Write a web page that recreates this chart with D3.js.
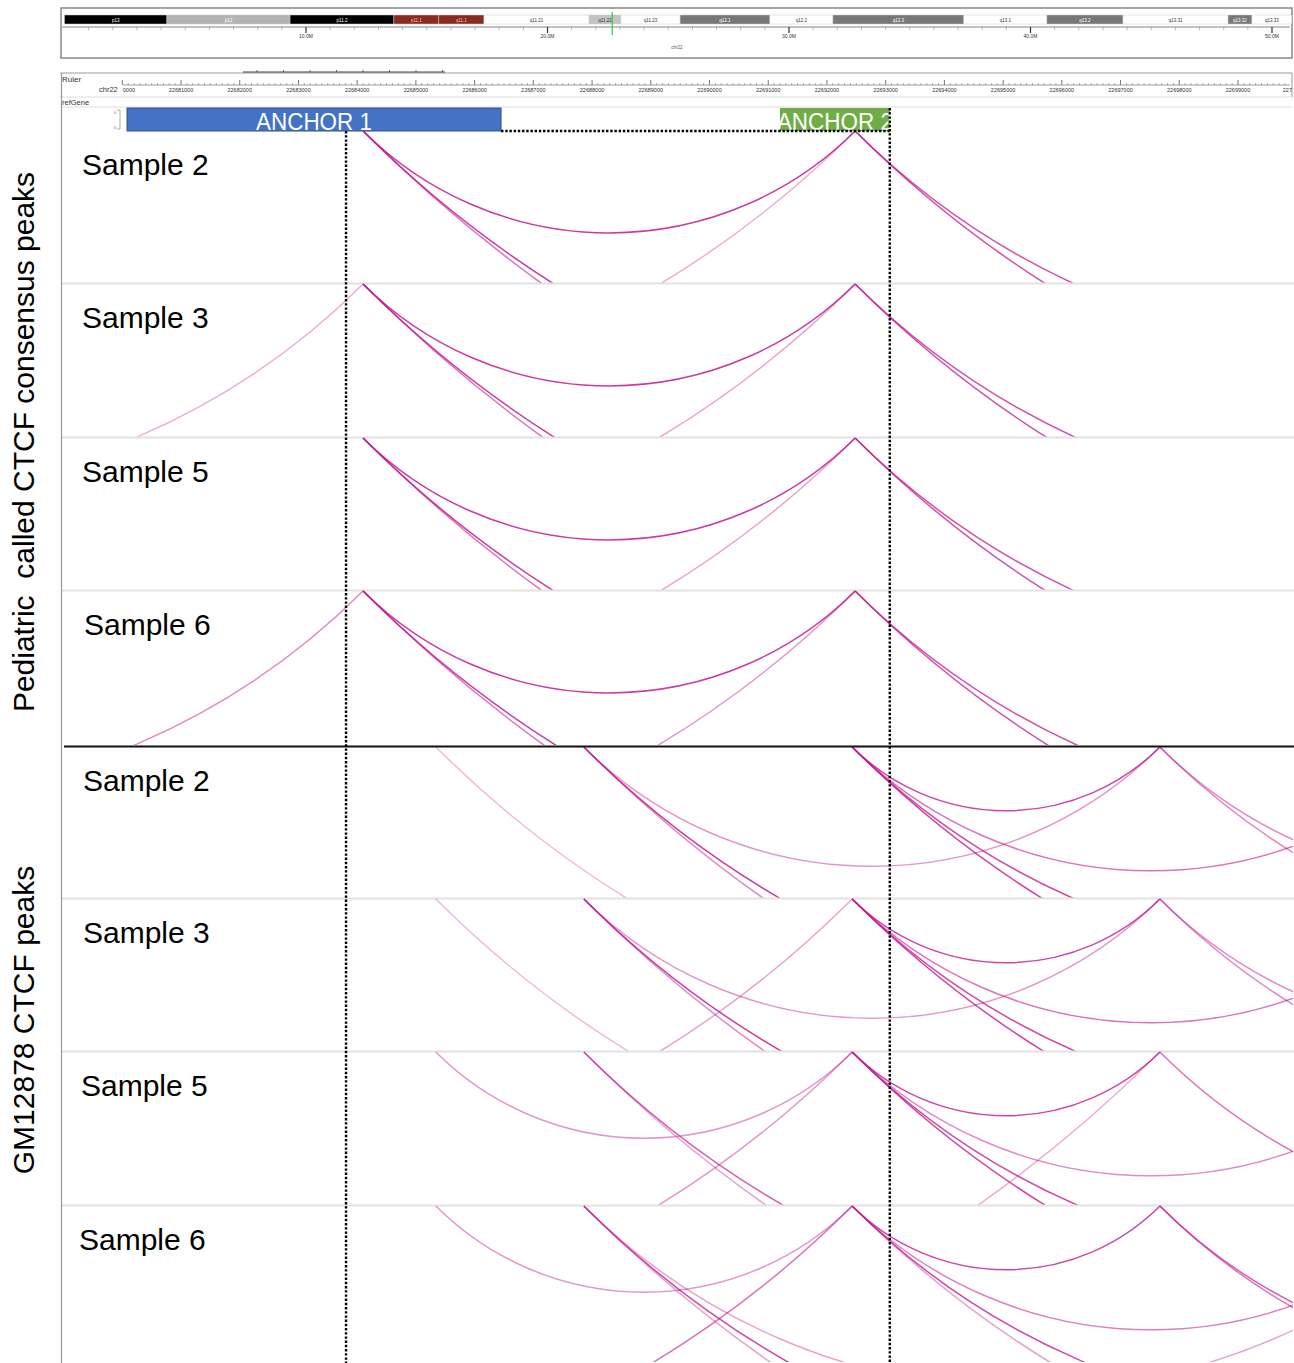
<!DOCTYPE html>
<html>
<head>
<meta charset="utf-8">
<script src="https://cdn.jsdelivr.net/npm/d3@7"></script>
<style>
body { margin: 0; background: #fff; }
text { font-family: "Liberation Sans", Arial, Helvetica, sans-serif; }
</style>
</head>
<body>
<svg id="chart" width="1294" height="1363"></svg>
<script>
// ---- data ----
// chr22 cytobands (Mb)
var bandNames  = ["p13","p12","p11.2","p11.1","q11.1","q11.21","q11.22","q11.23","q12.1","q12.2","q12.3","q13.1","q13.2","q13.31","q13.32","q13.33"];
var bandStarts = [0, 4.24, 9.34, 13.64, 15.5, 17.37, 21.72, 23.04, 25.49, 29.21, 31.82, 37.24, 40.68, 43.83, 48.18, 49.17];
var bandEnds   = [4.24, 9.34, 13.64, 15.5, 17.37, 21.72, 23.04, 25.49, 29.21, 31.82, 37.24, 40.68, 43.83, 48.18, 49.17, 50.82];
var bandStains = ["gpos100","gpos50","gpos100","acen","acen","gneg","gpos25","gneg","gpos75","gneg","gpos75","gneg","gpos75","gneg","gpos75","gneg"];
var ideoTicks = [10, 20, 30, 40, 50];
var viewPosMb = 22.68;

// ruler (bp)
var rulerTicks = d3.range(22680000, 22701000, 1000);

// anchors (bp)
var anchorNames  = ["ANCHOR 1", "ANCHOR 2"];
var anchorStarts = [22680080, 22691200];
var anchorEnds   = [22686450, 22693070];
var guideLines   = [22683810, 22693070];

// loops: [start, end, score]
var pedSample2 = [[22684100,22692480,0.85],[22684100,22719560,0.6],[22684100,22710850,0.85],[22667700,22692480,0.35],[22692480,22719230,0.75],[22692480,22710830,0.75]];
var pedSample3 = [[22684100,22692480,0.85],[22684100,22719560,0.6],[22684100,22710850,0.85],[22667700,22692480,0.4],[22692480,22719230,0.75],[22692480,22710830,0.75],[22666730,22684100,0.35]];
var pedSample5 = [[22684100,22692480,0.85],[22684100,22719560,0.6],[22684100,22710850,0.85],[22667700,22692480,0.4],[22692480,22719230,0.75],[22692480,22710830,0.75]];
var pedSample6 = [[22684100,22692480,0.85],[22684100,22719560,0.6],[22684100,22710850,0.85],[22667700,22692480,0.45],[22692480,22719230,0.75],[22692480,22710830,0.75],[22666730,22684100,0.5]];

var gmSample2 = [[22685340,22710770,0.3],[22687860,22711160,0.85],[22687860,22720830,0.5],[22687860,22697670,0.45],[22692430,22697670,0.8],[22692430,22702610,0.6],[22692430,22718350,0.8],[22692430,22709970,0.8],[22697670,22708720,0.5],[22697670,22715430,0.5]];
var gmSample3 = [[22685340,22710770,0.3],[22687860,22711160,0.85],[22687860,22720830,0.5],[22687860,22697670,0.45],[22666900,22692430,0.4],[22692430,22697670,0.8],[22692430,22702610,0.6],[22692430,22718350,0.8],[22692430,22709970,0.8],[22697670,22708720,0.5],[22697670,22715430,0.5]];
var gmSample5 = [[22685340,22692430,0.45],[22687860,22711160,0.7],[22687860,22720830,0.4],[22666900,22692430,0.45],[22692430,22697670,0.8],[22692430,22702610,0.5],[22692430,22718350,0.8],[22692430,22709970,0.8],[22664480,22697670,0.35],[22697670,22711670,0.6]];
var gmSample6 = [[22685340,22692430,0.45],[22687860,22711160,0.8],[22687860,22720830,0.4],[22687860,22702950,0.4],[22666900,22692430,0.6],[22692430,22697670,0.8],[22692430,22702610,0.55],[22692430,22718350,0.4],[22692430,22709970,0.8],[22697670,22710270,0.7],[22697670,22712760,0.6]];

var sampleNames = ["Sample 2", "Sample 3", "Sample 5", "Sample 6", "Sample 2", "Sample 3", "Sample 5", "Sample 6"];
var panelLoops  = [pedSample2, pedSample3, pedSample5, pedSample6, gmSample2, gmSample3, gmSample5, gmSample6];
var groupNames  = ["Pediatric  called CTCF consensus peaks", "GM12878 CTCF peaks"];

// ---- layout ----
var svg = d3.select("#chart");
var panelTops    = [131, 284, 438, 591, 747, 899, 1052, 1206];
var panelBottoms = [283, 437, 590, 745, 898, 1051, 1205, 1362];
var labelX = [82, 82, 82, 84, 83, 83, 81, 79];
var left = 62, right = 1293;

var x = d3.scaleLinear().domain([22680000, 22699000]).range([122.3, 1238]);
var xMb = d3.scaleLinear().domain([0, 50]).range([64.5, 1272]);

var stainColor = {gpos100: "#000", gpos75: "#777", gpos50: "#b3b3b3", gpos25: "#c4c4c4", gneg: "#fff", acen: "#8b2a1e"};
var stainText = {gpos100: "#fff", gpos75: "#fff", gpos50: "#fff", gpos25: "#333", gneg: "#333", acen: "#f0c0b8"};

// ideogram box
svg.append("rect").attr("x", 61).attr("y", 8).attr("width", 1231).attr("height", 50)
  .attr("fill", "#fff").attr("stroke", "#888").attr("stroke-width", 1.5);

var ideo = svg.append("g");
ideo.selectAll(".band").data(bandNames).enter().append("rect")
  .attr("x", function(d, i) { return xMb(bandStarts[i]); })
  .attr("y", 15)
  .attr("width", function(d, i) { return xMb(bandEnds[i]) - xMb(bandStarts[i]); })
  .attr("height", 9)
  .attr("fill", function(d, i) { return stainColor[bandStains[i]]; })
  .attr("stroke", "#ccc").attr("stroke-width", 0.5);
ideo.selectAll(".blab").data(bandNames).enter().append("text")
  .attr("x", function(d, i) { return (xMb(bandStarts[i]) + xMb(bandEnds[i])) / 2; })
  .attr("y", 21.5).attr("text-anchor", "middle").attr("font-size", 4.5)
  .attr("fill", function(d, i) { return stainText[bandStains[i]]; })
  .text(function(d) { return d; });

// ideogram axis
ideo.append("line").attr("x1", 62).attr("x2", 1290).attr("y1", 27).attr("y2", 27)
  .attr("stroke", "#666").attr("stroke-width", 0.8);
ideo.selectAll(".mt").data(d3.range(1, 51)).enter().append("line")
  .attr("x1", function(d) { return xMb(d); }).attr("x2", function(d) { return xMb(d); })
  .attr("y1", 27).attr("y2", function(d) { return d % 10 == 0 ? 33 : 30; })
  .attr("stroke", function(d) { return d % 10 == 0 ? "#333" : "#888"; })
  .attr("stroke-width", function(d) { return d % 10 == 0 ? 1.2 : 0.6; });
ideo.selectAll(".il").data(ideoTicks).enter().append("text")
  .attr("x", function(d) { return xMb(d); }).attr("y", 38)
  .attr("text-anchor", "middle").attr("font-size", 5).attr("fill", "#333")
  .text(function(d) { return d.toFixed(1) + "M"; });
ideo.append("line").attr("x1", xMb(viewPosMb)).attr("x2", xMb(viewPosMb))
  .attr("y1", 12).attr("y2", 35).attr("stroke", "#2ecc40").attr("stroke-width", 1.2);
ideo.append("text").attr("x", 677).attr("y", 49).attr("text-anchor", "middle")
  .attr("font-size", 4.5).attr("fill", "#555").text("chr22");

// ruler track
var ruler = svg.append("g");
ruler.append("line").attr("x1", 60).attr("x2", 1292).attr("y1", 73).attr("y2", 73).attr("stroke", "#999");
ruler.append("line").attr("x1", 1292).attr("x2", 1292).attr("y1", 73).attr("y2", 97).attr("stroke", "#999");
// selection bracket
ruler.append("line").attr("x1", 243).attr("x2", 445).attr("y1", 72).attr("y2", 72).attr("stroke", "#444").attr("stroke-width", 1.2);
ruler.selectAll(".bt").data(d3.range(0, 8)).enter().append("line")
  .attr("x1", function(d) { return 257 + d * 26.5; }).attr("x2", function(d) { return 257 + d * 26.5; })
  .attr("y1", 70).attr("y2", 72).attr("stroke", "#444").attr("stroke-width", 0.8);
ruler.append("text").attr("x", 62).attr("y", 82).attr("font-size", 8).attr("fill", "#333").text("Ruler");
ruler.append("line").attr("x1", 123).attr("x2", 1290).attr("y1", 85).attr("y2", 85).attr("stroke", "#888").attr("stroke-width", 0.8);
var minorTicks = d3.range(22680000, 22699900, 100);
ruler.selectAll(".rt").data(minorTicks).enter().append("line")
  .attr("x1", function(d) { return x(d); }).attr("x2", function(d) { return x(d); })
  .attr("y1", function(d) { return d % 1000 == 0 ? 80 : 83; }).attr("y2", 85)
  .attr("stroke", "#777").attr("stroke-width", function(d) { return d % 1000 == 0 ? 1 : 0.6; });
// first label is hidden under the chromosome name, last one runs off the edge
var lastTick = rulerTicks.length - 1;
ruler.selectAll(".rl").data(rulerTicks).enter().append("text")
  .attr("x", function(d, i) { return i == 0 ? x(d) + 0.5 : (i == lastTick ? 1292 : x(d)); }).attr("y", 92)
  .attr("text-anchor", function(d, i) { return i == 0 ? "start" : (i == lastTick ? "end" : "middle"); })
  .attr("font-size", 5.5).attr("fill", "#333")
  .text(function(d, i) {
    if (i == 0) return String(d).slice(4);
    if (i == lastTick) return String(d).slice(0, 3);
    return d;
  });
ruler.append("text").attr("x", 99).attr("y", 92).attr("font-size", 7.5).attr("fill", "#333").text("chr22");
ruler.append("line").attr("x1", 60).attr("x2", 1292).attr("y1", 97).attr("y2", 97).attr("stroke", "#ddd");
ruler.append("text").attr("x", 62).attr("y", 105).attr("font-size", 7.5).attr("fill", "#333").text("refGene");
ruler.append("line").attr("x1", 60).attr("x2", 1292).attr("y1", 107).attr("y2", 107).attr("stroke", "#ddd");
// small scale box
ruler.append("path").attr("d", "M117,110 h3 v19 h-3").attr("fill", "none").attr("stroke", "#999").attr("stroke-width", 0.8);
ruler.append("text").attr("x", 114).attr("y", 114).attr("font-size", 4).attr("fill", "#666").text("0");
ruler.append("text").attr("x", 114).attr("y", 129).attr("font-size", 4).attr("fill", "#666").text("0");

// anchors
var anchorFill = ["#4472c4", "#70ad47"];
svg.selectAll(".anchor").data(anchorNames).enter().append("rect")
  .attr("x", function(d, i) { return x(anchorStarts[i]); })
  .attr("y", 108)
  .attr("width", function(d, i) { return x(anchorEnds[i]) - x(anchorStarts[i]); })
  .attr("height", 23)
  .attr("fill", function(d, i) { return anchorFill[i]; })
  .attr("stroke", function(d, i) { return i == 0 ? "#2f528f" : "none"; });
svg.selectAll(".alab").data(anchorNames).enter().append("text")
  .attr("x", function(d, i) { return (x(anchorStarts[i]) + x(anchorEnds[i])) / 2; })
  .attr("y", 130).attr("text-anchor", "middle").attr("font-size", 23)
  .attr("textLength", 116).attr("lengthAdjust", "spacingAndGlyphs")
  .attr("fill", "#fff").text(function(d) { return d; });

// panels
var arcColor = "rgb(196,22,142)";
function arcPath(g1, g2, top) {
  var x1 = x(g1), x2 = x(g2);
  var c = x2 - x1, r = c / Math.SQRT2;
  var p = d3.path();
  p.moveTo(x1, top);
  p.arc((x1 + x2) / 2, top - c / 2, r, 3 * Math.PI / 4, Math.PI / 4, true);
  return p.toString();
}

var defs = svg.append("defs");
panelLoops.forEach(function(loops, i) {
  var top = panelTops[i], bottom = panelBottoms[i];
  defs.append("clipPath").attr("id", "clip" + i).append("rect")
    .attr("x", left).attr("y", top - 1).attr("width", right - left).attr("height", bottom - top + 1);
  var g = svg.append("g").attr("clip-path", "url(#clip" + i + ")");
  g.selectAll("path").data(loops).enter().append("path")
    .attr("d", function(d) { return arcPath(d[0], d[1], top); })
    .attr("fill", "none")
    .attr("stroke", arcColor)
    .attr("stroke-opacity", function(d) { return d[2]; })
    .attr("stroke-width", 1.5);
  if (i != 3 && i != 7) {
    svg.append("line").attr("x1", left).attr("x2", right + 1).attr("y1", bottom + 0.5).attr("y2", bottom + 0.5)
      .attr("stroke", "#e2e2e2").attr("stroke-width", 2);
  }
  svg.append("text").attr("x", labelX[i]).attr("y", top + 44)
    .attr("font-size", 30).attr("fill", "#000").text(sampleNames[i]);
});

// left border and group divider
svg.append("line").attr("x1", 61.5).attr("x2", 61.5).attr("y1", 73).attr("y2", 1363).attr("stroke", "#999").attr("stroke-width", 1.2);
svg.append("line").attr("x1", 64).attr("x2", 1294).attr("y1", 746.5).attr("y2", 746.5).attr("stroke", "#111").attr("stroke-width", 2.2);

// dotted guides
function dotted(sel) {
  return sel.attr("stroke", "#000").attr("stroke-width", 2.4).attr("stroke-dasharray", "2.4,1.8");
}
dotted(svg.append("line").attr("x1", x(guideLines[0])).attr("x2", x(guideLines[0])).attr("y1", 131).attr("y2", 1363));
dotted(svg.append("line").attr("x1", x(guideLines[1])).attr("x2", x(guideLines[1])).attr("y1", 108).attr("y2", 1363));
dotted(svg.append("line").attr("x1", x(anchorEnds[0])).attr("x2", x(guideLines[1])).attr("y1", 131).attr("y2", 131));

// group labels
var groupCenters = [442, 1020];
svg.selectAll(".grp").data(groupNames).enter().append("text")
  .attr("transform", function(d, i) { return "translate(34," + groupCenters[i] + ") rotate(-90)"; })
  .attr("text-anchor", "middle").attr("font-size", 30).attr("fill", "#000")
  .style("white-space", "pre")
  .text(function(d) { return d; });
</script>
</body>
</html>
